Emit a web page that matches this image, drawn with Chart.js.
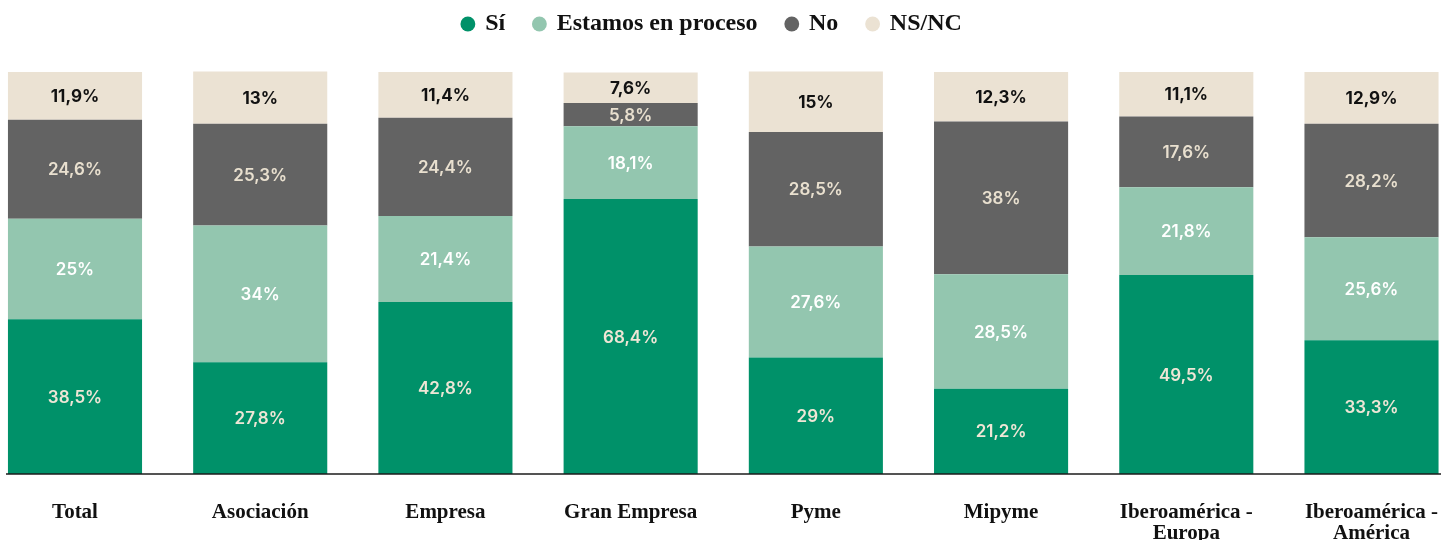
<!DOCTYPE html>
<html lang="es">
<head>
<meta charset="utf-8">
<title>Gráfico</title>
<script src="https://cdn.jsdelivr.net/npm/chart.js@4.4.1/dist/chart.umd.min.js"></script>
<style>
  html, body { margin: 0; padding: 0; background: #fff; }
  #wrap { width: 1451px; height: 540px; }
</style>
</head>
<body>
<div id="wrap"><canvas id="myChart"></canvas></div>
<script>
// Categories (x axis)
const categories = [
  "Total",
  "Asociación",
  "Empresa",
  "Gran Empresa",
  "Pyme",
  "Mipyme",
  ["Iberoamérica -", "Europa"],
  ["Iberoamérica -", "América"],
];

// Series values, in %
const si = [38.5, 27.8, 42.8, 68.4, 29, 21.2, 49.5, 33.3];
const enProceso = [25, 34, 21.4, 18.1, 27.6, 28.5, 21.8, 25.6];
const no = [24.6, 25.3, 24.4, 5.8, 28.5, 38, 17.6, 28.2];
const nsnc = [11.9, 13, 11.4, 7.6, 15, 12.3, 11.1, 12.9];

const serifFont = "'Liberation Serif', 'DejaVu Serif', serif";
const sansFont = "Inter, 'Open Sans', sans-serif";

// Format a value the Spanish way: 38.5 -> "38,5%"
function formatPct(v) {
  return String(v).replace(".", ",") + "%";
}

// Draws the value of each segment in the middle of the segment
const segmentLabels = {
  id: "segmentLabels",
  afterDatasetsDraw(chart) {
    const ctx = chart.ctx;
    ctx.save();
    ctx.textAlign = "center";
    ctx.textBaseline = "middle";
    chart.data.datasets.forEach((ds, i) => {
      const meta = chart.getDatasetMeta(i);
      ctx.fillStyle = ds.labelColor;
      ctx.font = ds.labelWeight + " 17px " + sansFont;
      meta.data.forEach((bar, j) => {
        const y = (bar.y + bar.base) / 2;
        ctx.fillText(formatPct(ds.data[j]), bar.x, y + 1);
      });
    });
    ctx.restore();
  },
};

// Baseline under the bars, a bit wider than the plot area
const baseline = {
  id: "baseline",
  afterDatasetsDraw(chart) {
    const ctx = chart.ctx;
    const y = chart.scales.y.getPixelForValue(0);
    ctx.save();
    ctx.strokeStyle = "#1b1b1b";
    ctx.lineWidth = 1.5;
    ctx.beginPath();
    ctx.moveTo(6, y);
    ctx.lineTo(1441, y);
    ctx.stroke();
    ctx.restore();
  },
};

// Extra room under the legend, and legend nudged a little to the left
const legendMargin = {
  id: "legendMargin",
  beforeInit(chart) {
    const fit = chart.legend.fit;
    chart.legend.fit = function () {
      fit.bind(chart.legend)();
      this.height = 89;
    };
  },
  afterLayout(chart) {
    chart.legend.left -= 11;
    chart.legend.right -= 11;
  },
};

const ctx = document.getElementById("myChart").getContext("2d");
new Chart(ctx, {
  type: "bar",
  data: {
    labels: categories,
    datasets: [
      { label: "Sí", data: si, backgroundColor: "#009169", labelColor: "#efe6d6", labelWeight: 600 },
      { label: "Estamos en proceso", data: enProceso, backgroundColor: "#93c6af", labelColor: "#ffffff", labelWeight: 600 },
      { label: "No", data: no, backgroundColor: "#636363", labelColor: "#e9e0cf", labelWeight: 600 },
      { label: "NS/NC", data: nsnc, backgroundColor: "#ebe2d3", labelColor: "#111111", labelWeight: 700 },
    ],
  },
  options: {
    responsive: true,
    maintainAspectRatio: false,
    animation: false,
    categoryPercentage: 0.724,
    barPercentage: 1,
    clip: false,
    layout: {
      padding: { left: 75, right: 79.5, top: -17, bottom: 0 },
    },
    plugins: {
      legend: {
        position: "top",
        labels: {
          usePointStyle: true,
          pointStyle: "circle",
          boxWidth: 10.5,
          boxHeight: 10.5,
          padding: 29,
          color: "#111",
          font: { family: serifFont, size: 24, weight: "bold" },
        },
      },
      tooltip: { enabled: false },
    },
    scales: {
      x: {
        stacked: true,
        offset: false,
        grid: { display: false },
        border: { display: false },
        ticks: {
          padding: 20,
          maxRotation: 0,
          autoSkip: false,
          color: "#111",
          font: { family: serifFont, size: 21, weight: "bold", lineHeight: 1 },
        },
        afterFit(scale) {
          scale.height = 66;
          scale.paddingLeft = 0;
          scale.paddingRight = 0;
        },
      },
      y: {
        stacked: true,
        display: false,
        min: 0,
        max: 100,
      },
    },
  },
  plugins: [segmentLabels, baseline, legendMargin],
});
</script>
</body>
</html>
